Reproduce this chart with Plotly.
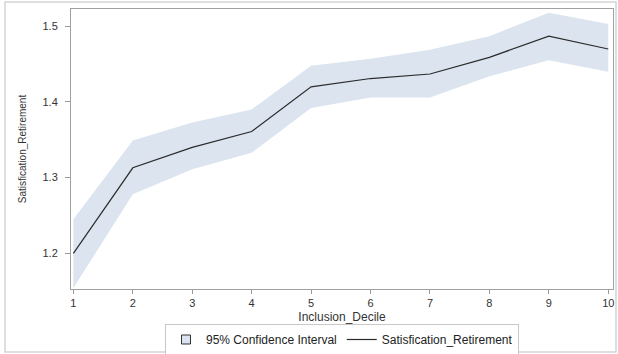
import plotly.graph_objects as go

decile = [1, 2, 3, 4, 5, 6, 7, 8, 9, 10]
mean_sat = [1.200, 1.313, 1.340, 1.361, 1.420, 1.431, 1.437, 1.459, 1.487, 1.470]
ci_upper = [1.245, 1.349, 1.373, 1.390, 1.448, 1.457, 1.469, 1.487, 1.518, 1.503]
ci_lower = [1.154, 1.278, 1.311, 1.333, 1.392, 1.406, 1.406, 1.434, 1.455, 1.440]
y_ticks = [1.2, 1.3, 1.4, 1.5]

W, H = 618, 354
L, R, T, B = 71, 5, 9, 65

BAND = "#dbe4ef"
fig = go.Figure()
fig.add_trace(go.Scatter(
    x=decile + decile[::-1], y=ci_upper + ci_lower[::-1],
    fill="toself", fillcolor=BAND, line=dict(width=0, color=BAND),
    mode="lines", name="95% Confidence Interval", hoverinfo="skip", showlegend=False))
fig.add_trace(go.Scatter(
    x=[None], y=[None], mode="markers", name="95% Confidence Interval",
    marker=dict(symbol="square", size=9, color=BAND, line=dict(color="#333333", width=1))))
fig.add_trace(go.Scatter(
    x=decile, y=mean_sat, mode="lines",
    line=dict(color="#2b2b2b", width=1.2), name="Satisfication_Retirement"))

pw = W - L - R
ph = H - T - B
fig.add_shape(type="rect", xref="paper", yref="paper",
              x0=(5 - L) / pw, x1=(616 - L) / pw,
              y0=(H - B - 352) / ph, y1=(H - B - 2) / ph,
              line=dict(color="#d4d4d4", width=1.5), layer="below")

axis_font = dict(family="Liberation Sans, Arial, sans-serif", size=11, color="#333333")
fig.update_layout(
    width=W, height=H,
    margin=dict(l=L, r=R, t=T, b=B),
    paper_bgcolor="white", plot_bgcolor="white",
    font=axis_font,
    showlegend=True,
    legend=dict(orientation="h", x=0.5, xanchor="center", xref="paper",
                y=1 - 339.5 / H, yref="container", yanchor="middle",
                bordercolor="#c8c8c8", borderwidth=1, font=dict(size=12, color="#222222"),
                tracegroupgap=0),
    xaxis=dict(range=[0.96, 10.08], tickvals=decile, ticks="outside", ticklen=4,
               tickcolor="#9a9a9a", showline=True, linecolor="#a0a0a0", linewidth=1,
               mirror=True, showgrid=False, zeroline=False, automargin=False,
               ticklabelstandoff=0,
               title=dict(text="Inclusion_Decile", standoff=6, font=dict(size=12))),
    yaxis=dict(range=[1.1528, 1.5229], tickvals=y_ticks, tickformat=".1f",
               ticks="outside", ticklen=5, tickcolor="#9a9a9a", showline=True,
               linecolor="#a0a0a0", linewidth=1, mirror=True, showgrid=False,
               zeroline=False, automargin=False, ticklabelstandoff=5,
               title=dict(text="Satisfication_Retirement", standoff=14, font=dict(size=10))),
)

fig.write_html("out.html")
